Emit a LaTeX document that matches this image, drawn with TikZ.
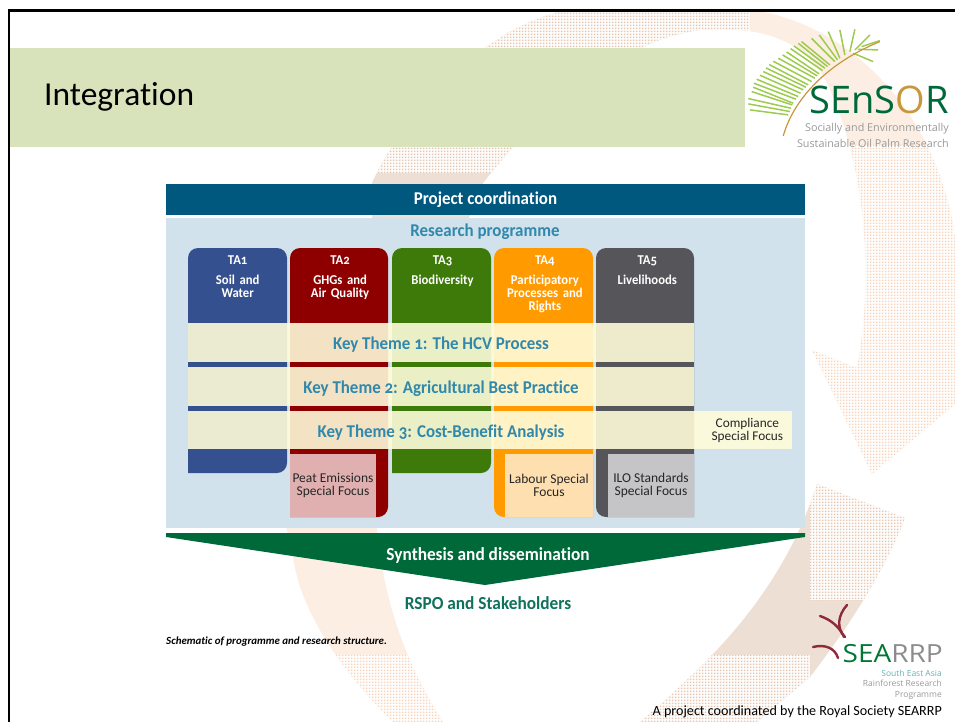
\documentclass[tikz,border=0pt]{standalone}
\usepackage{fontspec}
\setmainfont[Ligatures=NoCommon]{Carlito}
\newfontfamily\diafont[Numbers=OldStyle,Ligatures=NoCommon,FakeStretch=.94]{Carlito}
\newfontfamily\logofont{Open Sans}
\newfontfamily\widelogofont[FakeStretch=1.12]{Open Sans}
\usetikzlibrary{positioning,patterns}
\pgfdeclarepatternformonly{stipple}{\pgfqpoint{-1pt}{-1pt}}{\pgfqpoint{2pt}{2pt}}{\pgfqpoint{3pt}{3pt}}{%
  \pgfpathrectangle{\pgfqpoint{0pt}{0pt}}{\pgfqpoint{2pt}{2pt}}\pgfusepath{fill}}
\definecolor{band}{HTML}{D8E3BC}
\definecolor{navy}{HTML}{00587F}
\definecolor{panel}{HTML}{D2E2EC}
\definecolor{keyblue}{HTML}{3088AC}
\definecolor{cream}{HTML}{FFFCDA}
\definecolor{taone}{HTML}{34508F}
\definecolor{tatwo}{HTML}{8E0000}
\definecolor{tathree}{HTML}{3D7A0A}
\definecolor{tafour}{HTML}{FF9A00}
\definecolor{tafive}{HTML}{55555A}
\definecolor{peatfill}{HTML}{E0B0B0}
\definecolor{labourfill}{HTML}{FDDFB0}
\definecolor{ilofill}{HTML}{C5C4C6}
\definecolor{synth}{HTML}{00693A}
\definecolor{palegrey}{HTML}{EEDFD5}
\definecolor{palepeach}{HTML}{FDEEE3}
\definecolor{dotgrey}{HTML}{E5C6B0}
\definecolor{dotpeach}{HTML}{F7D3BB}
\definecolor{leafgreen}{HTML}{9CCB4E}
\definecolor{ribgold}{HTML}{C8963C}
\definecolor{birdred}{HTML}{8E2A3A}
\tikzset{
  tahead/.style={text=white,inner sep=0pt,text width=99pt,align=center,font=\diafont\bfseries\fontsize{13.5}{13}\selectfont},
  bandfill/.style={fill=cream,fill opacity=.9,text opacity=1,inner sep=0pt},
  themeband/.style={bandfill,minimum width=506pt,minimum height=39pt,text height=14pt,text depth=0pt,text=keyblue,font=\diafont\bfseries\fontsize{18}{20}\selectfont},
  focusbox/.style={inner sep=0pt,minimum height=63pt,align=center,text=black!85,font=\fontsize{13.5}{13}\selectfont,execute at begin node=\rule{0pt}{13pt}},
  leaflet/.style={draw=leafgreen,line width=1.5pt},
  birdstroke/.style={draw=birdred,line width=2.4pt,line cap=round},
}
\begin{document}
\begin{tikzpicture}[x=1pt,y=-1pt]
\useasboundingbox (0,0) rectangle (955,722);
% swooshes behind everything
\begin{scope}
\clip (372,240) -- (372,183) .. controls (400,120) and (480,30) .. (560,12) -- (750,10) .. controls (840,20) and (960,110) .. (960,300) -- (960,400) -- (872,474) -- (812,350) -- (857,368) .. controls (872,290) and (870,180) .. (830,90) .. controls (810,40) and (760,25) .. (700,30) .. controls (620,40) and (540,110) .. (483,183) -- (460,240) -- cycle;
\fill[palepeach] (360,0) rectangle (960,480);
\fill[palegrey] (360,0) rectangle (750,240);
\fill[white] (360,10) rectangle (750,173);
\fill[pattern=stipple,pattern color=dotgrey] (360,10) rectangle (750,173);
\fill[white] (800,145) rectangle (960,480);
\fill[pattern=stipple,pattern color=dotpeach] (800,145) rectangle (960,480);
\end{scope}
\begin{scope}
\clip (817,484) -- (905,518) .. controls (885,570) and (850,625) .. (810,677) -- (757,722) -- (640,722) .. controls (700,670) and (780,600) .. (817,484) -- cycle;
\fill[palegrey] (630,480) rectangle (910,722);
\fill[white] (630,655) rectangle (810,722);
\fill[pattern=stipple,pattern color=dotgrey] (630,655) rectangle (810,722);
\fill[white] (810,480) rectangle (910,600);
\fill[pattern=stipple,pattern color=dotgrey] (810,480) rectangle (910,600);
\end{scope}
\begin{scope}
\clip (280,500) -- (293,557) .. controls (300,610) and (340,670) .. (393,722) -- (443,722) .. controls (410,670) and (385,610) .. (377,530) -- (377,500) -- cycle;
\fill[palepeach] (270,500) rectangle (450,722);
\fill[white] (270,655) rectangle (450,722);
\fill[pattern=stipple,pattern color=dotpeach] (270,655) rectangle (450,722);
\end{scope}
% slide frame and title
\fill[band] (10,48) rectangle (745,147);
\draw[line width=2.5pt] (9,722) -- (9,10.5) -- (955,10.5);
\node[anchor=west,inner sep=0pt,font=\fontsize{33.5}{36}\selectfont] (title) at (44,97) {Integration};
% diagram
\node[fill=navy,text=white,minimum width=639pt,minimum height=31pt,inner sep=0pt,font=\diafont\bfseries\fontsize{18}{20}\selectfont] (coord) at (485.5,199.5) {Project coordination};
\fill[panel] (166,218) rectangle (805,528);
\node[text=keyblue,inner sep=0pt,font=\diafont\bfseries\fontsize{18}{20}\selectfont] (research) at (485,232) {Research programme};
% the five columns
\fill[taone] (188,473) [rounded corners=10pt] -- (188,248) -- (287,248) -- (287,473) [sharp corners] -- cycle;
\fill[tatwo] (290,517) [rounded corners=10pt] -- (290,248) -- (388,248) -- (388,517) [sharp corners] -- cycle;
\fill[tathree] (392,473) [rounded corners=10pt] -- (392,248) -- (491,248) -- (491,473) [sharp corners] -- cycle;
\fill[tafour] (593,517) [rounded corners=10pt] -- (494,517) -- (494,248) -- (593,248) [sharp corners] -- cycle;
\fill[tafive] (694,517) [rounded corners=10pt] -- (596,517) -- (596,248) -- (694,248) [sharp corners] -- cycle;
\node[tahead,anchor=north west] (ta1) at (188,256) {TA1\\[7pt]Soil and\\Water};
\node[tahead,right=3pt of ta1.north east,anchor=north west] (ta2) {TA2\\[7pt]GHGs and\\Air Quality};
\node[tahead,right=3pt of ta2.north east,anchor=north west] (ta3) {TA3\\[7pt]Biodiversity};
\node[tahead,right=3pt of ta3.north east,anchor=north west] (ta4) {TA4\\[7pt]Participatory\\Processes and\\Rights};
\node[tahead,right=3pt of ta4.north east,anchor=north west] (ta5) {TA5\\[7pt]Livelihoods};
% key themes
\node[themeband] (theme1) at (441,342.5) {Key Theme 1: The HCV Process};
\node[themeband] (theme2) at (441,386) {Key Theme 2: Agricultural Best Practice};
\node[themeband,minimum height=38pt] (theme3) at (441,430) {Key Theme 3: Cost-Benefit Analysis};
\node[bandfill,right=0pt of theme3,minimum width=98pt,minimum height=38pt,align=center,text=black!85,font=\fontsize{13.3}{13}\selectfont,execute at begin node=\rule{0pt}{14pt}] (compliance) {\hspace*{8pt}Compliance\\\hspace*{8pt}Special Focus};
% special focus boxes
\node[focusbox,fill=peatfill,minimum width=86pt] (peat) at (333,485.5) {Peat Emissions\\Special Focus};
\node[focusbox,fill=labourfill,minimum width=88pt] (labour) at (549,485.5) {Labour Special\\Focus};
\node[focusbox,fill=ilofill,minimum width=86pt] (ilo) at (651,485.5) {ILO Standards\\Special Focus};
% synthesis arrow
\fill[synth] (166,533) -- (805,533) -- (805,537) -- (485,585) -- (166,537) -- cycle;
\node[text=white,inner sep=0pt,font=\diafont\bfseries\fontsize{18.4}{20}\selectfont] (synthesis) at (488,555) {Synthesis and dissemination};
\node[text=synth!70!keyblue,inner sep=0pt,font=\diafont\bfseries\fontsize{18.4}{20}\selectfont] (rspo) at (488,603) {RSPO and Stakeholders};
\node[anchor=west,inner sep=0pt,font=\bfseries\itshape\fontsize{10.9}{12}\selectfont] (caption) at (166,642) {Schematic of programme and research structure.};
% SEnSOR logo
\begin{scope}[shift={(730,0)},x=.333pt,y=-.333pt]
\foreach \bx/\by/\tx/\ty in {175/345/60/330, 180/335/55/312, 183/325/55/296, 187/315/65/275, 190/310/70/262, 198/298/72/250, 205/290/80/238, 212/280/90/226, 220/270/100/215, 228/262/108/204, 235/255/118/194, 245/245/130/184, 255/235/145/175, 262/228/158/165, 268/222/170/156, 278/212/182/146, 285/205/192/138, 293/200/205/130, 300/195/215/125, 315/185/245/115, 323/180/268/105, 330/175/295/95, 345/165/330/90, 360/155/375/88, 375/150/420/105, 395/140/450/122, 385/148/445/150, 370/160/430/185}
  \draw[leaflet] (\bx,\by) -- (\tx,\ty);
\draw[draw=ribgold,line width=1.2pt] (160,408) .. controls (190,300) and (290,190) .. (450,125);
\end{scope}
\node[anchor=base east,inner sep=0pt,text=synth,font=\logofont\fontsize{38}{40}\selectfont] (sensor) at (949,114) {SEnS{\color{ribgold}O}R};
\node[anchor=base east,inner sep=0pt,text=black!40,font=\logofont\fontsize{10.8}{12}\selectfont] (sensor1) at (949,132) {Socially and Environmentally};
\node[anchor=base east,inner sep=0pt,text=black!40,font=\logofont\fontsize{10.8}{12}\selectfont] (sensor2) at (949,148) {Sustainable Oil Palm Research};
% SEARRP logo
\draw[birdstroke] (820,616) .. controls (832,620) and (840,628) .. (844,637);
\draw[birdstroke] (847,605) .. controls (838,615) and (836,628) .. (845,637);
\draw[birdstroke] (813,647) .. controls (825,644) and (835,648) .. (838,658);
\node[anchor=base east,inner sep=0pt,text=black!45,font=\widelogofont\fontsize{25}{26}\selectfont] (searrp) at (943,662) {{\color{synth!90!green}SEA}RRP};
\node[anchor=base east,inner sep=0pt,text=teal!60!white,font=\logofont\fontsize{8.5}{10}\selectfont] (searrp1) at (942,676) {South East Asia};
\node[anchor=base east,inner sep=0pt,text=black!40,font=\logofont\fontsize{8.5}{10}\selectfont] (searrp2) at (942,686) {Rainforest Research};
\node[anchor=base east,inner sep=0pt,text=black!40,font=\logofont\fontsize{8.5}{10}\selectfont] (searrp3) at (942,697) {Programme};
\node[anchor=base east,inner sep=0pt,font=\fontsize{14.1}{15}\selectfont] (footer) at (942,715) {A project coordinated by the Royal Society SEARRP};
\end{tikzpicture}
\end{document}
